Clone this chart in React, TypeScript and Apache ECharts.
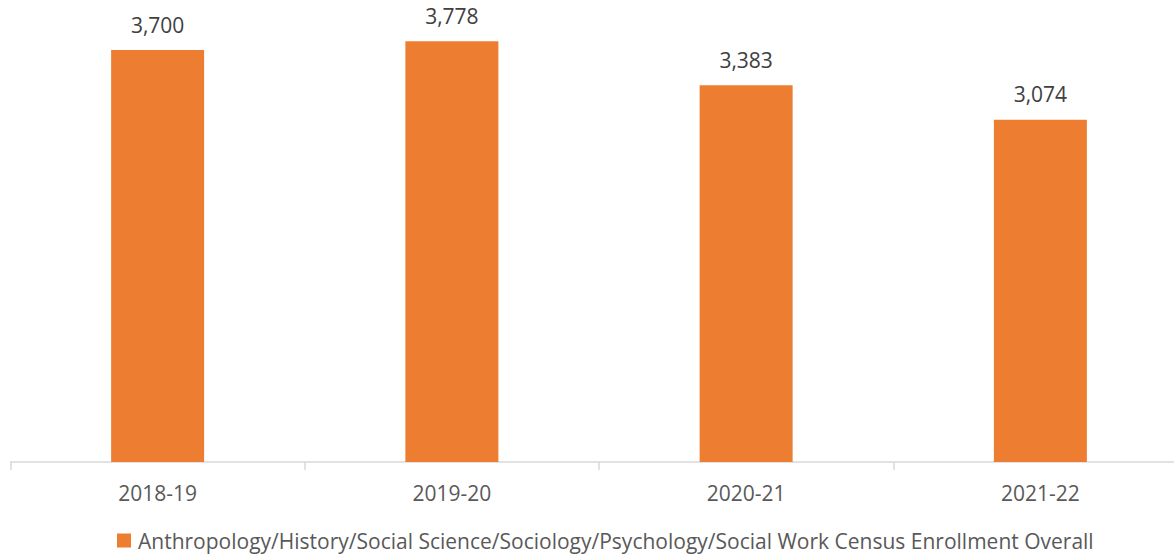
import React, { useEffect, useRef } from "react";
import * as echarts from "echarts";

const categories = ["2018-19", "2019-20", "2020-21", "2021-22"];
const enrollment = [3700, 3778, 3383, 3074];
const seriesName =
  "Anthropology/History/Social Science/Sociology/Psychology/Social Work Census Enrollment Overall";

export default function App() {
  const ref = useRef<HTMLDivElement>(null);
  useEffect(() => {
    document.body.style.margin = "0";
    const chart = echarts.init(ref.current!, null, { renderer: "svg" });
    chart.setOption({
      animation: false,
      textStyle: { fontFamily: "Open Sans" },
      grid: { left: 10.5, right: 0.5, top: 16.6, bottom: 94, containLabel: false },
      legend: {
        top: 525,
        left: 112,
        itemWidth: 14,
        itemHeight: 14,
        icon: "rect",
        itemGap: 6,
        textStyle: { fontSize: 21, color: "#595959", fontFamily: "Open Sans", padding: [0, 0, 0, 2] },
        data: [seriesName],
      },
      xAxis: {
        type: "category",
        data: categories,
        axisLine: { lineStyle: { color: "#d9d9d9", width: 1.5 } },
        axisTick: { show: true, length: 8, lineStyle: { color: "#d9d9d9", width: 1.5 } },
        axisLabel: { fontSize: 21, color: "#595959", margin: 20, fontFamily: "Open Sans" },
      },
      yAxis: {
        type: "value",
        min: 0,
        max: 4000,
        show: false,
        splitLine: { show: false },
      },
      series: [
        {
          name: seriesName,
          type: "bar",
          data: enrollment,
          barWidth: 93,
          itemStyle: { color: "#ed7d31" },
          label: {
            show: true,
            position: "top",
            distance: 15,
            fontSize: 21,
            color: "#404040",
            fontFamily: "Open Sans",
            formatter: (p: any) => p.value.toLocaleString("en-US"),
          },
        },
      ],
    });
    return () => chart.dispose();
  }, []);
  return (
    <div style={{ width: 1174, height: 556, overflow: "hidden" }}>
      <div ref={ref} style={{ width: 1188, height: 556 }} />
    </div>
  );
}
